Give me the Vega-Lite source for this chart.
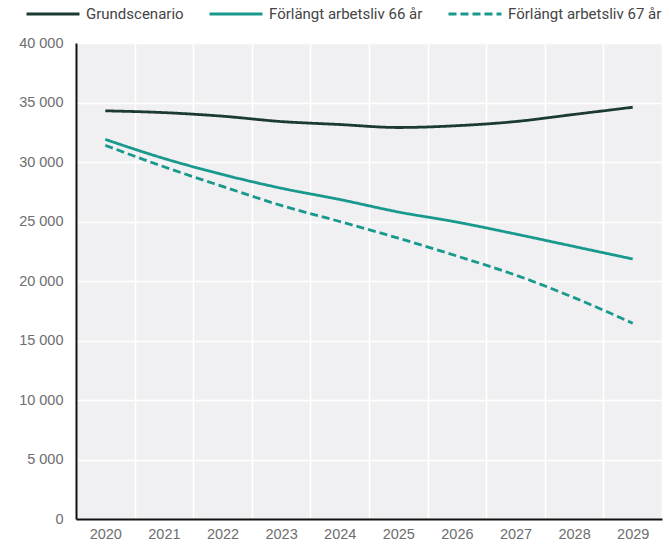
{
  "$schema": "https://vega.github.io/schema/vega-lite/v6.json",
  "width": 586,
  "height": 476,
  "autosize": {"type": "none"},
  "padding": {"left": 76, "top": 43, "right": 7, "bottom": 27},
  "background": "white",
  "config": {
    "view": {"fill": "#f0f0f2", "stroke": null},
    "font": "Liberation Sans"
  },
  "data": {
    "values": [
      {"year": "2020", "series": "Grundscenario", "value": 34300},
      {"year": "2021", "series": "Grundscenario", "value": 34150},
      {"year": "2022", "series": "Grundscenario", "value": 33850},
      {"year": "2023", "series": "Grundscenario", "value": 33400},
      {"year": "2024", "series": "Grundscenario", "value": 33150},
      {"year": "2025", "series": "Grundscenario", "value": 32900},
      {"year": "2026", "series": "Grundscenario", "value": 33050},
      {"year": "2027", "series": "Grundscenario", "value": 33400},
      {"year": "2028", "series": "Grundscenario", "value": 34000},
      {"year": "2029", "series": "Grundscenario", "value": 34600},
      {"year": "2020", "series": "Förlängt arbetsliv 66 år", "value": 31900},
      {"year": "2021", "series": "Förlängt arbetsliv 66 år", "value": 30300},
      {"year": "2022", "series": "Förlängt arbetsliv 66 år", "value": 28950},
      {"year": "2023", "series": "Förlängt arbetsliv 66 år", "value": 27800},
      {"year": "2024", "series": "Förlängt arbetsliv 66 år", "value": 26850},
      {"year": "2025", "series": "Förlängt arbetsliv 66 år", "value": 25800},
      {"year": "2026", "series": "Förlängt arbetsliv 66 år", "value": 24950},
      {"year": "2027", "series": "Förlängt arbetsliv 66 år", "value": 23950},
      {"year": "2028", "series": "Förlängt arbetsliv 66 år", "value": 22900},
      {"year": "2029", "series": "Förlängt arbetsliv 66 år", "value": 21850},
      {"year": "2020", "series": "Förlängt arbetsliv 67 år", "value": 31400},
      {"year": "2021", "series": "Förlängt arbetsliv 67 år", "value": 29600},
      {"year": "2022", "series": "Förlängt arbetsliv 67 år", "value": 27950},
      {"year": "2023", "series": "Förlängt arbetsliv 67 år", "value": 26350},
      {"year": "2024", "series": "Förlängt arbetsliv 67 år", "value": 25000},
      {"year": "2025", "series": "Förlängt arbetsliv 67 år", "value": 23600},
      {"year": "2026", "series": "Förlängt arbetsliv 67 år", "value": 22100},
      {"year": "2027", "series": "Förlängt arbetsliv 67 år", "value": 20500},
      {"year": "2028", "series": "Förlängt arbetsliv 67 år", "value": 18600},
      {"year": "2029", "series": "Förlängt arbetsliv 67 år", "value": 16450}
    ]
  },
  "mark": {"type": "line", "strokeWidth": 2.8, "interpolate": "monotone"},
  "encoding": {
    "x": {
      "field": "year",
      "type": "ordinal",
      "bandPosition": 0.5,
      "scale": {"type": "band", "paddingInner": 0, "paddingOuter": 0},
      "axis": {
        "title": null,
        "labelAngle": 0,
        "ticks": false,
        "tickBand": "extent",
        "grid": true,
        "gridColor": "white",
        "gridWidth": 1.5,
        "gridOpacity": 1,
        "domainColor": "#111",
        "domainWidth": 2,
        "labelFontSize": 14.5,
        "labelColor": "#6e6e6e",
        "labelPadding": 8
      }
    },
    "y": {
      "field": "value",
      "type": "quantitative",
      "scale": {"domain": [0, 40000]},
      "axis": {
        "title": null,
        "values": [0, 5000, 10000, 15000, 20000, 25000, 30000, 35000, 40000],
        "labelExpr": "replace(format(datum.value, ','), ',', ' ')",
        "ticks": false,
        "grid": true,
        "gridColor": "white",
        "gridWidth": 1.5,
        "gridOpacity": 1,
        "domainColor": "#111",
        "domainWidth": 2,
        "labelFontSize": 14.5,
        "labelColor": "#6e6e6e",
        "labelPadding": 13
      }
    },
    "color": {
      "field": "series",
      "type": "nominal",
      "scale": {
        "domain": ["Grundscenario", "Förlängt arbetsliv 66 år", "Förlängt arbetsliv 67 år"],
        "range": ["#1b3a33", "#19998d", "#19998d"]
      },
      "legend": {
        "title": null,
        "orient": "none",
        "direction": "horizontal",
        "legendX": -51,
        "legendY": -57,
        "symbolType": "stroke",
        "symbolSize": 2809,
        "symbolStrokeWidth": 3,
        "labelFont": "Roboto",
        "labelFontSize": 15,
        "labelColor": "#444",
        "labelLimit": 300,
        "columnPadding": 19,
        "labelOffset": 5
      }
    },
    "strokeDash": {
      "field": "series",
      "type": "nominal",
      "scale": {
        "domain": ["Grundscenario", "Förlängt arbetsliv 66 år", "Förlängt arbetsliv 67 år"],
        "range": [[1, 0], [1, 0], [8, 4]]
      },
      "legend": {
        "title": null,
        "orient": "none",
        "direction": "horizontal",
        "legendX": -51,
        "legendY": -57,
        "symbolType": "stroke",
        "symbolSize": 2809,
        "symbolStrokeWidth": 3,
        "labelFont": "Roboto",
        "labelFontSize": 15,
        "labelColor": "#444",
        "labelLimit": 300,
        "columnPadding": 19,
        "labelOffset": 5
      }
    }
  }
}
